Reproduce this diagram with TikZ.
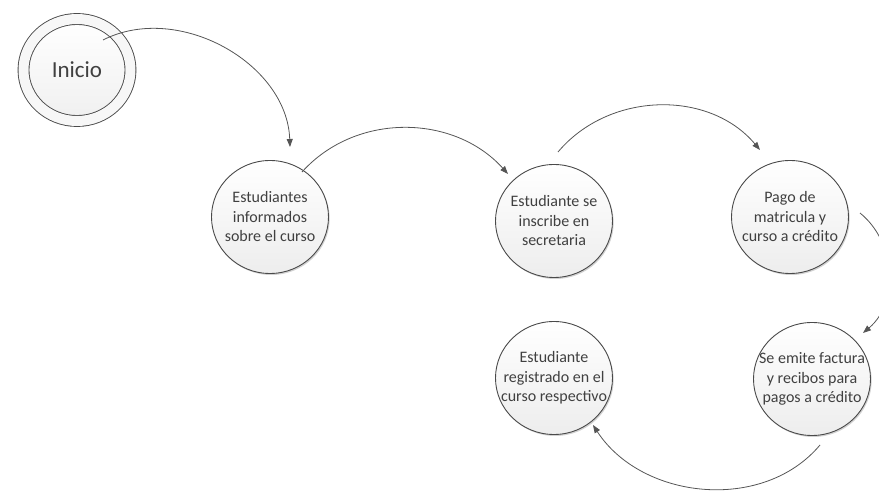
\documentclass[tikz,border=0pt]{standalone}
\usepackage{fontspec}
\setmainfont{Carlito}
\usetikzlibrary{shapes.geometric,arrows.meta,calc,shadows}

\definecolor{inkgray}{HTML}{404040}
\definecolor{edgegray}{HTML}{4A4A4A}
\definecolor{linegray}{HTML}{555555}

\tikzset{
  stagetext/.style={align=center, text=inkgray, font=\fontsize{16}{19.5}\selectfont, inner sep=0pt},
  stage/.style={ellipse, draw=edgegray, line width=0.9pt, minimum width=117pt, minimum height=113pt,
    inner sep=0pt, top color=white, bottom color=gray!14,
    drop shadow={shadow xshift=1.2pt, shadow yshift=-1.5pt, opacity=0.18, fill=black},
    label={[stagetext]center:#1}},
  startnode/.style={ellipse, draw=edgegray, line width=0.9pt, double=gray!6, double distance=10pt,
    minimum width=107pt, minimum height=102pt, inner sep=0pt, top color=white, bottom color=gray!12,
    text=inkgray, font=\fontsize{23}{27}\selectfont,
    drop shadow={shadow xshift=1.2pt, shadow yshift=-1.5pt, opacity=0.18, fill=black}},
  flow/.style={draw=linegray, line width=0.8pt, -{Triangle[length=8pt,width=6pt]}}
}

\begin{document}
\begin{tikzpicture}[x=1pt, y=-1pt]
  \useasboundingbox (0,0) rectangle (879,494);

  % process states
  \node[startnode] (ini) at (77,70) {Inicio};
  \node[stage={Estudiantes\\informados\\sobre el curso}] (n1) at (270,217) {};
  \node[stage={Estudiante se\\inscribe en\\secretaria}] (n2) at (554,221) {};
  \node[stage={Pago de\\matricula y\\curso a crédito}] (n3) at (790,217) {};
  \node[stage={Se emite factura\\y recibos para\\pagos a crédito}] (n4) at (812,379) {};
  \node[stage={Estudiante\\registrado en el\\curso respectivo}] (n5) at (554,378) {};

  % ends of the transition arcs
  \coordinate (s1) at ($(ini)+(26,-30)$);
  \coordinate (e1) at ($(n1)+(20,-70)$);
  \coordinate (s2) at ($(n1)+(32,-45)$);
  \coordinate (e2) at ($(n2)+(-46,-47)$);
  \coordinate (s3) at ($(n2)+(4,-69)$);
  \coordinate (e3) at ($(n3)+(-30,-67)$);
  \coordinate (s4) at ($(n3)+(70,-4)$);
  \coordinate (e4) at ($(n4)+(51,-46)$);
  \coordinate (s5) at ($(n4)+(8,66)$);
  \coordinate (e5) at ($(n5)+(39,47)$);

  % transitions
  \draw[flow] (s1) to[out=27, in=92] (e1);
  \draw[flow] (s2) to[out=48, in=132] (e2);
  \draw[flow] (s3) to[out=50, in=130] (e3);
  \draw[flow] (s4) to[out=-39, in=40] (e4);
  \draw[flow] (s5) to[out=-130, in=-57] (e5);
\end{tikzpicture}
\end{document}
